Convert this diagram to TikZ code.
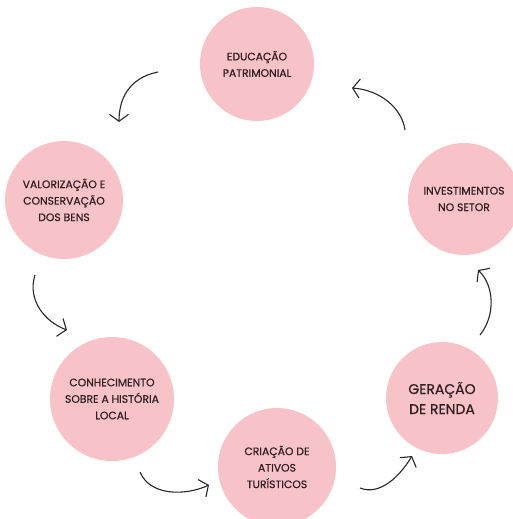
\documentclass[tikz,border=0pt]{standalone}
\usepackage{fontspec}
\setmainfont{Poppins}
\newfontfamily\stagefont{Poppins}[FakeBold=0.6]
\usepackage{tikz}
\usetikzlibrary{arrows.meta}
\definecolor{rosa}{RGB}{247, 195, 200}
\definecolor{tinta}{RGB}{48, 30, 32}
\tikzstyle{stage} = [circle, fill=rosa, text=tinta, align=center, inner sep=0pt, font=\stagefont\fontsize{10.8}{16.5}\selectfont]
\tikzstyle{bigstage} = [stage, font=\stagefont\fontsize{14}{20}\selectfont]
\tikzstyle{cedge} = [draw, line width=1.1pt, black!85, -{Straight Barb[length=7pt, width=19pt, line width=1.1pt]}]

\begin{document}
\begin{tikzpicture}[x=1pt, y=-1pt]
\useasboundingbox (0,0) rectangle (513,519);
\begin{scope}
\clip (0,0) rectangle (513,519);

% stages ==================================
\node[stage, minimum size=114pt] (edu) at (257,64) {EDUCAÇÃO\\PATRIMONIAL};
\node[stage, minimum size=112pt] (inv) at (464,199) {INVESTIMENTOS\\NO SETOR};
\node[bigstage, minimum size=112pt] (ger) at (442,398) {GERAÇÃO\\DE RENDA};
\node[stage, minimum size=118pt] (cri) at (277,467) {CRIAÇÃO DE\\ATIVOS\\TURÍSTICOS};
\node[stage, minimum size=124pt] (con) at (112,399) {CONHECIMENTO\\SOBRE A HISTÓRIA\\LOCAL};
\node[stage, minimum size=118pt] (val) at (64,200) {VALORIZAÇÃO E\\CONSERVAÇÃO\\DOS BENS};
\end{scope}

% arrow ends
\coordinate (a1s) at (158,72);  \coordinate (a1e) at (119,122);
\coordinate (a2s) at (405,130); \coordinate (a2e) at (352,88);
\coordinate (a3s) at (480,335); \coordinate (a3e) at (478,270);
\coordinate (a4s) at (360,488); \coordinate (a4e) at (412,456);
\coordinate (a5s) at (140,472); \coordinate (a5e) at (209,485);
\coordinate (a6s) at (35,275);  \coordinate (a6e) at (67,330);

%edges
\path[cedge] (a1s) .. controls (128,78) and (119,100) .. (a1e);
\path[cedge] (a2s) .. controls (402,108) and (380,90) .. (a2e);
\path[cedge] (a3s) .. controls (496,315) and (494,285) .. (a3e);
\path[cedge] (a4s) .. controls (380,496) and (400,476) .. (a4e);
\path[cedge] (a5s) .. controls (150,496) and (185,496) .. (a5e);
\path[cedge] (a6s) .. controls (27,300) and (45,322) .. (a6e);

\end{tikzpicture}
\end{document}
